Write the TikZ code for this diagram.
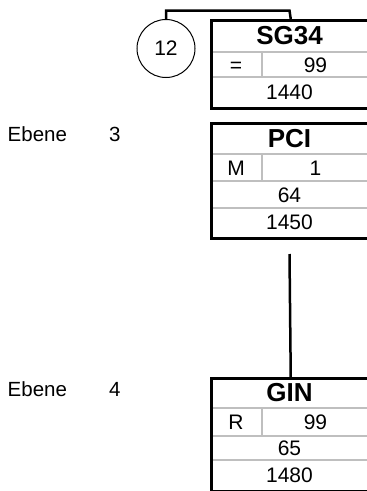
\documentclass[tikz,border=0pt]{standalone}
\usepackage{fontspec}
\setmainfont{Liberation Sans}
\begin{document}
\begin{tikzpicture}[x=1pt,y=-1pt,
  box/.style={draw, line width=2.5pt, minimum width=159pt, inner sep=0pt, anchor=north west, rectangle},
  grid/.style={draw=black!25, line width=1.5pt},
  txt/.style={inner sep=0pt, text height=15pt, text depth=0pt, font=\fontsize{21}{25}\selectfont},
  ttl/.style={inner sep=0pt, text height=18.5pt, text depth=0pt, font=\fontsize{26}{30}\selectfont\bfseries},
  lbl/.style={inner sep=0pt, anchor=base west, font=\fontsize{20.5}{24}\selectfont},
  conn/.style={line width=2.5pt}]
\useasboundingbox (0,0) rectangle (367,491);
\clip (0,0) rectangle (367,491);
% SG34
\draw[grid] (210,52) -- (369,52) (210,77) -- (369,77) (262,52) -- (262,77);
\node[box, minimum height=88pt] (sg) at (210,19) {};
\node[ttl] (sgt) at (289.5,35.5) {SG34};
\node[txt] (sgop) at (236,64.5) {=};
\node[txt] (sgv) at (315.5,64.5) {99};
\node[txt] (sgn) at (289.5,92) {1440};
% circle
\node[draw, circle, line width=1pt, minimum size=58pt, inner sep=0pt, font=\fontsize{21}{25}\selectfont] (c12) at (166,48.5) {12};
\coordinate (ctop) at (289.5,10.5);
\draw[conn] (c12.north) |- (ctop) -- (sg.north);
% PCI
\draw[grid] (210,154) -- (369,154) (210,181) -- (369,181) (210,208) -- (369,208) (262,154) -- (262,181);
\node[box, minimum height=115pt] (pci) at (210,122) {};
\node[ttl] (pcit) at (289.5,138) {PCI};
\node[txt] (pciop) at (236,167.5) {M};
\node[txt] (pciv) at (315.5,167.5) {1};
\node[txt] (pcin) at (289.5,194.5) {64};
\node[txt] (pcim) at (289.5,222) {1450};
% GIN
\draw[grid] (210,408) -- (369,408) (210,436) -- (369,436) (210,460) -- (369,460) (262,408) -- (262,436);
\node[box, minimum height=113pt] (gin) at (210,377) {};
\node[ttl] (gint) at (289.5,392.5) {GIN};
\node[txt] (ginop) at (236,422) {R};
\node[txt] (ginv) at (315.5,422) {99};
\node[txt] (ginn) at (289.5,448) {65};
\node[txt] (ginm) at (289.5,475) {1480};
\coordinate (vtop) at (289.5,254);
\draw[conn] (vtop) -- (gin.north);
% labels
\node[lbl] (e3) at (7.5,141.5) {Ebene};
\node[lbl] (n3) at (109,141.5) {3};
\node[lbl] (e4) at (7.5,396) {Ebene};
\node[lbl] (n4) at (109,396) {4};
\end{tikzpicture}
\end{document}
